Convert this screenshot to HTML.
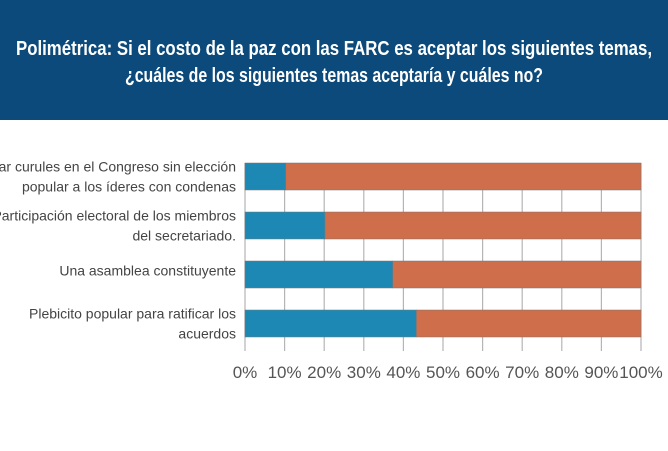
<!DOCTYPE html>
<html><head><meta charset="utf-8"><style>
html,body{margin:0;padding:0;background:#fff;}
svg{display:block;font-family:"Liberation Sans Narrow","Liberation Sans",sans-serif;}
</style></head><body>
<svg id="chart" width="668" height="451" viewBox="0 0 668 451">
<rect x="0" y="0" width="668" height="120" fill="#0b4a7b"/>
<text x="334" y="55" fill="#fff" font-size="20" font-weight="bold" text-anchor="middle" textLength="636" lengthAdjust="spacingAndGlyphs">Polimétrica: Si el costo de la paz con las FARC es aceptar los siguientes temas,</text>
<text x="334" y="82" fill="#fff" font-size="20" font-weight="bold" text-anchor="middle" textLength="418" lengthAdjust="spacingAndGlyphs">¿cuáles de los siguientes temas aceptaría y cuáles no?</text>
<g id="grid"></g><g id="bars"></g><g id="labels"></g><g id="ticks"></g>
</svg>
<script>
const categories=[["Asignar curules en el Congreso sin elección","popular a los íderes con condenas"],["Participación electoral de los miembros","del secretariado."],["Una asamblea constituyente"],["Plebicito popular para ratificar los","acuerdos"]];
const acepta=[10.3,20.2,37.3,43.3];
const noAcepta=[89.7,79.8,62.7,56.7];
const tickValues=[0,10,20,30,40,50,60,70,80,90,100];
const tickLabels=["0%","10%","20%","30%","40%","50%","60%","70%","80%","90%","100%"];
const NS="http://www.w3.org/2000/svg";
const x0=245,x1=641;
function xs(v){return x0+(x1-x0)*v/100;}
function yTop(i){return 163+i*49;}
const bh=27;
function mk(t,a,p){const e=document.createElementNS(NS,t);for(const k in a)e.setAttribute(k,a[k]);p.appendChild(e);return e;}
const grid=document.getElementById('grid'),bars=document.getElementById('bars'),labels=document.getElementById('labels'),ticks=document.getElementById('ticks');
tickValues.forEach((v,i)=>{
 const l=mk('line',{x1:xs(v),x2:xs(v),y1:163,y2:351,stroke:'#b5b5b5','stroke-width':1.2},grid);
 
 
 const t=mk('text',{x:xs(v),y:378,'font-size':17,fill:'#555','text-anchor':'middle'},ticks);
 t.textContent=tickLabels[i];
 
 
});
categories.forEach((c,i)=>{
 const y=yTop(i);
 const b1=mk('rect',{x:xs(0),y:y,width:xs(acepta[i])-xs(0),height:bh,fill:'#1e88b4',stroke:'#777','stroke-width':0.5},bars);
 
 
 const b2=mk('rect',{x:xs(acepta[i]),y:y,width:xs(acepta[i]+noAcepta[i])-xs(acepta[i]),height:bh,fill:'#cf6e4a',stroke:'#777','stroke-width':0.5},bars);
 
 
 const n=c.length;
 c.forEach((line,j)=>{
  const ty=y+bh/2+5+(j-(n-1)/2)*20-(n===1?4:0);
  const t=mk('text',{x:236,y:ty,'font-size':14,fill:'#444','text-anchor':'end'},labels);
  t.textContent=line;
  
  
 });
});
</script>
</body></html>
